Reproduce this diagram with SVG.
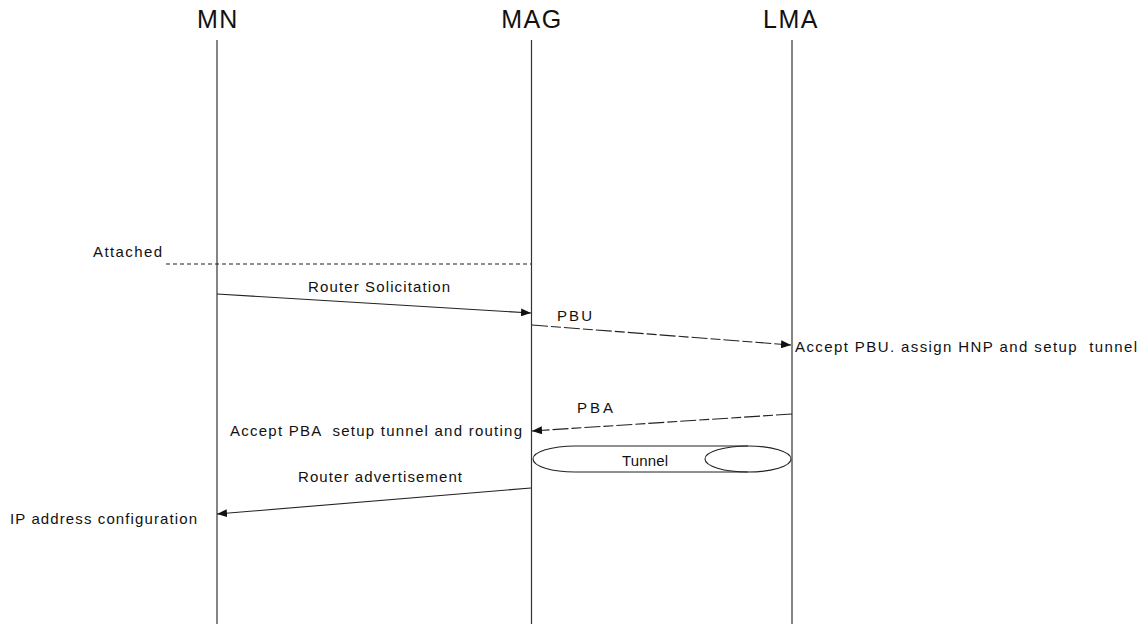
<svg xmlns="http://www.w3.org/2000/svg" width="1148" height="624" viewBox="0 0 1148 624">
<defs>
<style>
.hdr{font-family:"Liberation Sans",Arial,sans-serif;font-size:25px;fill:#111;text-anchor:middle;letter-spacing:1.5px}
.lbl{font-family:"Liberation Sans",Arial,sans-serif;font-size:15px;fill:#111;white-space:pre}
.life{stroke:#333;stroke-width:1.2;fill:none}
.msg{stroke:#222;stroke-width:1.1;fill:none}
.dash{stroke-dasharray:4 3}
.ldash{stroke-dasharray:16 3 10 3}
</style>
<marker id="ah" viewBox="0 0 10 8" refX="10" refY="4" markerWidth="10" markerHeight="8" markerUnits="userSpaceOnUse" orient="auto">
<path d="M0,0 L10,4 L0,8 Z" fill="#111"/>
</marker>
</defs>
<rect width="1148" height="624" fill="#fff"/>
<g id="MN">
<text class="hdr" x="218" y="28">MN</text>
<line class="life" x1="217" y1="40" x2="217" y2="624"/>
</g>
<g id="MAG">
<text class="hdr" x="532" y="28">MAG</text>
<line class="life" x1="531.5" y1="40" x2="531.5" y2="624"/>
</g>
<g id="LMA">
<text class="hdr" x="791" y="28">LMA</text>
<line class="life" x1="792" y1="40" x2="792" y2="624"/>
</g>
<g id="tunnel">
<path class="msg" d="M748,446 L575,446 A42,13 0 0 0 575,472 L748,472"/>
<ellipse class="msg" cx="748" cy="459" rx="43" ry="13"/>
<text class="lbl" x="622" y="466" textLength="46">Tunnel</text>
</g>
<g id="connectors">
<line class="msg dash" x1="166" y1="264" x2="531.5" y2="264"/>
<line class="msg" x1="217" y1="294" x2="531" y2="313" marker-end="url(#ah)"/>
<line class="msg ldash" x1="532" y1="325" x2="791" y2="345" marker-end="url(#ah)"/>
<line class="msg ldash" x1="792" y1="414" x2="532" y2="431" marker-end="url(#ah)"/>
<line class="msg" x1="531" y1="488" x2="217" y2="514" marker-end="url(#ah)"/>
</g>
<g id="labels">
<text class="lbl" x="93" y="257" textLength="69">Attached</text>
<text class="lbl" x="308" y="292" textLength="142">Router Solicitation</text>
<text class="lbl" x="557" y="321" textLength="35">PBU</text>
<text class="lbl" x="795" y="352" textLength="342">Accept PBU. assign HNP and setup  tunnel</text>
<text class="lbl" x="577" y="413" textLength="36">PBA</text>
<text class="lbl" x="230" y="436" textLength="292">Accept PBA  setup tunnel and routing</text>
<text class="lbl" x="298" y="482" textLength="164">Router advertisement</text>
<text class="lbl" x="10" y="524" textLength="187">IP address configuration</text>
</g>
</svg>
